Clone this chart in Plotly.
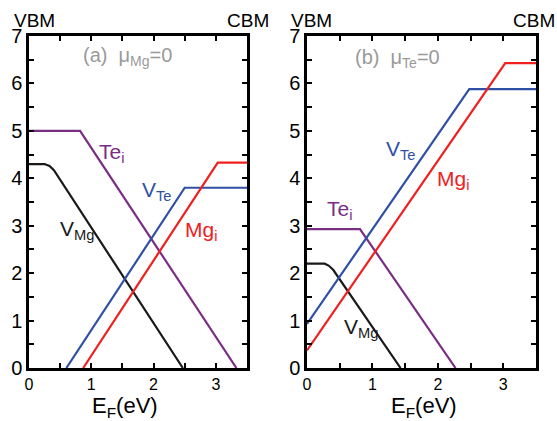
import plotly.graph_objects as go

# ---- data (panel a: mu_Mg = 0) ----
a_vmg_x = [0, 0.25, 0.33, 0.40, 2.47]
a_vmg_y = [4.30, 4.30, 4.26, 4.17, 0.0]
a_tei_x = [0, 0.82, 3.33]
a_tei_y = [5.00, 5.00, 0.0]
a_vte_x = [0.60, 2.50, 3.5]
a_vte_y = [0.0, 3.80, 3.80]
a_mgi_x = [0.87, 3.03, 3.5]
a_mgi_y = [0.0, 4.33, 4.33]

# ---- data (panel b: mu_Te = 0) ----
b_vmg_x = [0, 0.27, 0.33, 0.40, 1.43]
b_vmg_y = [2.20, 2.20, 2.16, 2.07, 0.0]
b_tei_x = [0, 0.81, 2.27]
b_tei_y = [2.93, 2.93, 0.0]
b_vte_x = [0, 2.48, 3.5]
b_vte_y = [0.93, 5.88, 5.88]
b_mgi_x = [0, 3.03, 3.5]
b_mgi_y = [0.37, 6.43, 6.43]

x_ticks = [0, 0.5, 1, 1.5, 2, 2.5, 3, 3.5]
x_ticktext = ["0", "", "1", "", "2", "", "3", ""]
y_ticks = [i * 0.5 for i in range(15)]
y_ticktext = [str(int(v)) if v == int(v) else "" for v in y_ticks]

BLACK = "#1a1a1a"
PURPLE = "#7b2d86"
BLUE = "#3050a5"
RED = "#f02020"
GRAY = "#9a9a9a"
FONT = "Liberation Sans, Arial, sans-serif"

fig = go.Figure()

def add(x, y, color, xa, ya):
    fig.add_trace(go.Scatter(x=x, y=y, mode="lines", line=dict(color=color, width=2.2),
                             xaxis=xa, yaxis=ya, showlegend=False, hoverinfo="skip"))

add(a_vmg_x, a_vmg_y, BLACK, "x", "y")
add(a_tei_x, a_tei_y, PURPLE, "x", "y")
add(a_vte_x, a_vte_y, BLUE, "x", "y")
add(a_mgi_x, a_mgi_y, RED, "x", "y")
add(b_vmg_x, b_vmg_y, BLACK, "x2", "y2")
add(b_tei_x, b_tei_y, PURPLE, "x2", "y2")
add(b_vte_x, b_vte_y, BLUE, "x2", "y2")
add(b_mgi_x, b_mgi_y, RED, "x2", "y2")

W, H = 557, 421
ydom = [53 / H, 385 / H]

xcommon = dict(range=[0, 3.5], tickvals=x_ticks, ticktext=x_ticktext, ticks="inside",
               ticklen=5, tickwidth=2, tickcolor="black", showline=True, linewidth=2.5,
               linecolor="black", mirror="allticks", showgrid=False, zeroline=False,
               automargin=False,
               tickfont=dict(size=16, color="black", family=FONT))
ycommon = dict(range=[0, 7], tickvals=y_ticks, ticktext=y_ticktext, ticks="inside",
               ticklen=5, tickwidth=2, tickcolor="black", showline=True, linewidth=2.5,
               linecolor="black", mirror="allticks", showgrid=False, zeroline=False,
               automargin=False,
               tickfont=dict(size=20, color="black", family=FONT))

fig.update_layout(
    width=W, height=H, margin=dict(l=0, r=0, t=0, b=0),
    paper_bgcolor="white", plot_bgcolor="white",
    xaxis=dict(domain=[29 / W, 247 / W], anchor="y", **xcommon),
    yaxis=dict(domain=ydom, anchor="x", **ycommon),
    xaxis2=dict(domain=[307 / W, 536 / W], anchor="y2", **xcommon),
    yaxis2=dict(domain=ydom, anchor="x2", **ycommon),
    font=dict(family=FONT),
)

anns = []
def lab(text, x, y, color, xr, yr, size=21):
    anns.append(dict(text=text, x=x, y=y, xref=xr, yref=yr, xanchor="left", yanchor="middle",
                     showarrow=False, font=dict(size=size, color=color, family=FONT)))

# curve labels panel a
lab("Te<sub>i</sub>", 1.09, 4.53, PURPLE, "x", "y")
lab("V<sub>Te</sub>", 1.78, 3.73, BLUE, "x", "y")
lab("Mg<sub>i</sub>", 2.47, 2.89, RED, "x", "y")
lab("V<sub>Mg</sub>", 0.47, 2.91, BLACK, "x", "y")
# curve labels panel b
lab("V<sub>Te</sub>", 1.18, 4.60, BLUE, "x2", "y2")
lab("Mg<sub>i</sub>", 1.95, 3.96, RED, "x2", "y2")
lab("Te<sub>i</sub>", 0.27, 3.33, PURPLE, "x2", "y2")
lab("V<sub>Mg</sub>", 0.54, 0.84, BLACK, "x2", "y2")
# panel titles
lab("(a)  \u03bc<sub>Mg</sub>=0", 0.84, 6.56, GRAY, "x", "y", 20)
lab("(b)  \u03bc<sub>Te</sub>=0", 0.71, 6.52, GRAY, "x2", "y2", 20)

def pap(text, px, py, anchor, size=19):
    anns.append(dict(text=text, x=px / W, y=1 - py / H, xref="paper", yref="paper",
                     xanchor=anchor, yanchor="middle", showarrow=False,
                     font=dict(size=size, color="black", family=FONT)))

pap("VBM", 12, 20, "left")
pap("CBM", 271, 20, "right")
pap("VBM", 289, 20, "left")
pap("CBM", 557, 20, "right")
pap("E<sub>F</sub>(eV)", 125, 407, "center", 22)
pap("E<sub>F</sub>(eV)", 424, 407, "center", 22)

fig.update_layout(annotations=anns)
fig.write_html("out.html")
